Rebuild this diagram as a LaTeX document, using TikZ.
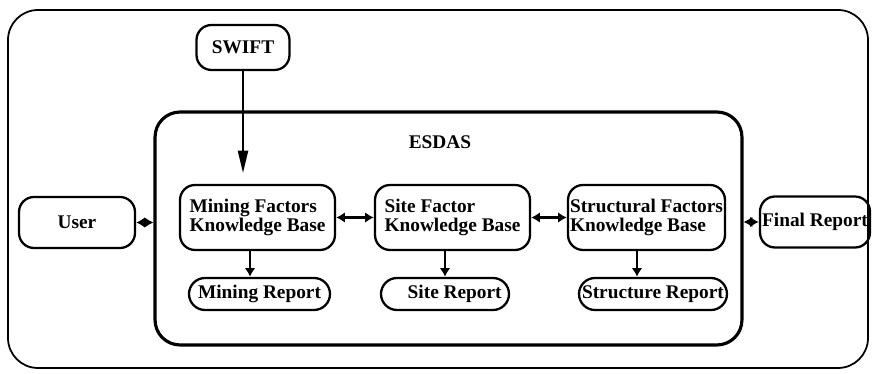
\documentclass[tikz,border=0pt]{standalone}
\usepackage{fontspec}
\setmainfont{Liberation Serif}
\usetikzlibrary{arrows.meta}
\begin{document}
\begin{tikzpicture}[x=0.02cm, y=-0.02cm, >={Latex[length=5pt,width=6pt]},
        kbase/.style={draw, line width=1.3pt, rounded corners=0.3cm, minimum width=3.1cm, minimum height=1.3cm, align=left, inner sep=0pt, font=\fontsize{11}{11}\selectfont\bfseries},
        report/.style={draw, line width=1.3pt, rounded corners=0.32cm, minimum height=0.64cm, inner sep=0pt, font=\fontsize{11}{12}\selectfont\bfseries},
        actor/.style={draw, line width=1.3pt, rounded corners=0.3cm, minimum height=1.02cm, inner sep=0pt, font=\fontsize{11}{12}\selectfont\bfseries}]
    \useasboundingbox (0,0) rectangle (873,374);
    \draw [line width=1pt, rounded corners=0.6cm] (8,10) rectangle (868,368);
    \node [draw, line width=1.8pt, rounded corners=0.5cm, minimum width=11.74cm, minimum height=4.66cm] (esdas) at (448.5,228.5) {};
    \node [font=\fontsize{11}{12}\selectfont\bfseries] (esdaslabel) at (440,142) {ESDAS};
    \node [actor, minimum width=1.86cm, minimum height=0.9cm] (swift) at (243,47.5) {SWIFT};
    \node [actor, minimum width=2.32cm] (user) at (77,222.5) {User};
    \node [actor, minimum width=2.2cm] (final) at (815,222) {Final Report};
    \node [kbase] (mining) at (257.5,217.5) {Mining Factors\\Knowledge Base};
    \node [kbase] (site) at (452.5,217.5) {Site Factor\\Knowledge Base};
    \node [kbase, minimum width=3.14cm] (struct) at (646.5,217.5) {Structural Factors\\Knowledge Base};
    \node [report, minimum width=2.82cm] (minrep) at (259.5,294) {Mining Report};
    \node [report, minimum width=2.56cm] (siterep) at (445,294) {\quad Site Report};
    \node [report, minimum width=2.96cm] (structrep) at (653,294) {Structure Report};
    \draw [line width=1.3pt, -{Triangle[length=0.45cm,width=0.2cm]}] (swift.south) -- ++(0,102);
    \draw [line width=1.3pt, <->] (user.east) -- (user.east -| esdas.west);
    \draw [line width=1.3pt, <->] (esdas.east |- final.west) -- (final.west);
    \draw [line width=1.3pt, <->] (mining.east) -- (site.west);
    \draw [line width=1.3pt, <->] (site.east) -- (struct.west);
    \draw [line width=1.3pt, ->] ([xshift=-0.15cm]mining.south) -- ([xshift=-0.15cm]mining.south |- minrep.north);
    \draw [line width=1.3pt, ->] ([xshift=-0.15cm]site.south) -- ([xshift=-0.15cm]site.south |- siterep.north);
    \draw [line width=1.3pt, ->] ([xshift=-0.19cm]struct.south) -- ([xshift=-0.19cm]struct.south |- structrep.north);
\end{tikzpicture}
\end{document}
